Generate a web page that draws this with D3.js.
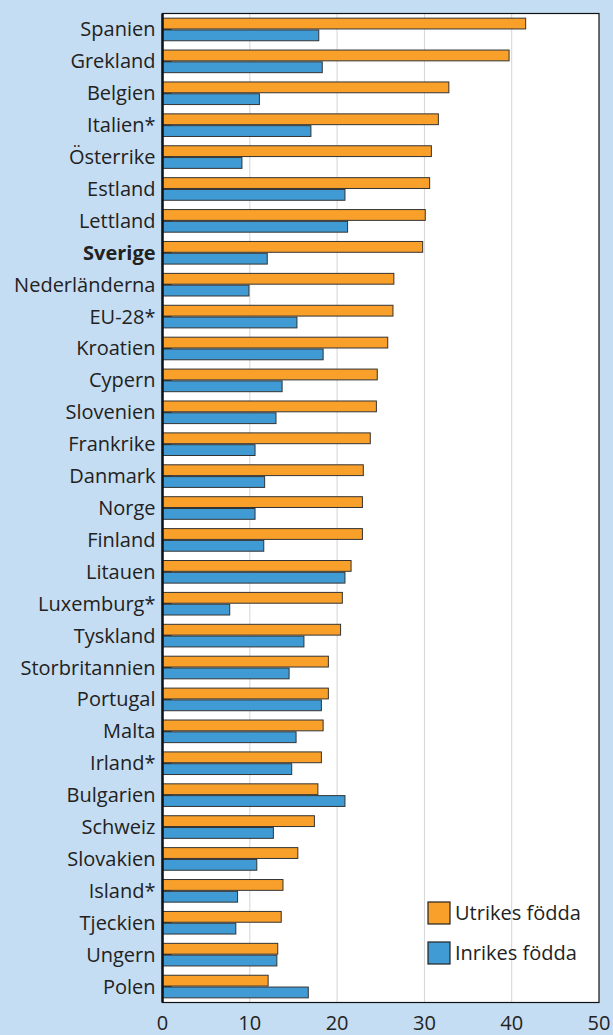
<!DOCTYPE html>
<html>
<head>
<meta charset="utf-8">
<style>
  body { margin: 0; background: #c5ddf2; }
  text { font-family: "Open Sans", "Noto Sans", sans-serif; fill: #222; }
</style>
</head>
<body>
<script src="https://d3js.org/d3.v7.min.js"></script>
<script>

    var countries = ['Spanien', 'Grekland', 'Belgien', 'Italien*', 'Österrike', 'Estland', 'Lettland',
        'Sverige', 'Nederländerna', 'EU-28*', 'Kroatien', 'Cypern', 'Slovenien', 'Frankrike',
        'Danmark', 'Norge', 'Finland', 'Litauen', 'Luxemburg*', 'Tyskland', 'Storbritannien',
        'Portugal', 'Malta', 'Irland*', 'Bulgarien', 'Schweiz', 'Slovakien', 'Island*',
        'Tjeckien', 'Ungern', 'Polen'];

    // utrikes födda (orange)
    var utrikes = [41.6, 39.7, 32.8, 31.6, 30.8, 30.6, 30.1, 29.8, 26.5, 26.4, 25.8, 24.6, 24.5,
        23.8, 23.0, 22.9, 22.9, 21.6, 20.6, 20.4, 19.0, 19.0, 18.4, 18.2, 17.8, 17.4, 15.5,
        13.8, 13.6, 13.2, 12.1];

    // inrikes födda (blue)
    var inrikes = [17.9, 18.3, 11.1, 17.0, 9.1, 20.9, 21.2, 12.0, 9.9, 15.4, 18.4, 13.7, 13.0,
        10.6, 11.7, 10.6, 11.6, 20.9, 7.7, 16.2, 14.5, 18.2, 15.3, 14.8, 20.9, 12.7, 10.8,
        8.6, 8.4, 13.1, 16.7];

    var ticks = [0, 10, 20, 30, 40, 50];
    var seriesNames = ['Utrikes födda', 'Inrikes födda'];
    var colors = ['#f9a02b', '#409bd4'];

    var width = 613, height = 1035,
        plotLeft = 162.5, plotRight = 599, plotTop = 13.5, plotBottom = 1002.5;

    var svg = d3.select('body').append('svg')
        .attr('width', width)
        .attr('height', height);

    var x = d3.scaleLinear().domain([0, 50]).range([plotLeft, plotRight]);

    var y = d3.scaleBand().domain(countries).range([plotTop, plotBottom]).paddingInner(0.26).paddingOuter(0.13);

    var sub = d3.scaleBand().domain([0, 1]).range([0, y.bandwidth()]);

    // plot background
    svg.append('rect')
        .attr('x', plotLeft).attr('y', plotTop)
        .attr('width', plotRight - plotLeft).attr('height', plotBottom - plotTop)
        .attr('fill', '#fff');

    // grid
    svg.selectAll('line.grid')
        .data(ticks.slice(1, -1))
        .enter().append('line')
        .attr('x1', function (d) { return x(d); })
        .attr('x2', function (d) { return x(d); })
        .attr('y1', plotTop).attr('y2', plotBottom)
        .attr('stroke', '#d4d4d4').attr('stroke-width', 1);

    // small inward ticks at category centres
    svg.selectAll('line.cat')
        .data(countries)
        .enter().append('line')
        .attr('x1', plotLeft).attr('x2', plotLeft + 9)
        .attr('y1', function (d) { return y(d) + y.bandwidth() / 2; })
        .attr('y2', function (d) { return y(d) + y.bandwidth() / 2; })
        .attr('stroke', '#222').attr('stroke-width', 1.5);

    var rows = countries.map(function (c, i) { return { name: c, vals: [utrikes[i], inrikes[i]] }; });

    var g = svg.selectAll('g.row')
        .data(rows)
        .enter().append('g')
        .attr('transform', function (d) { return 'translate(0,' + y(d.name) + ')'; });

    g.selectAll('rect')
        .data(function (d) { return d.vals; })
        .enter().append('rect')
        .attr('x', x(0))
        .attr('y', function (d, i) { return sub(i) + 0.5; })
        .attr('width', function (d) { return x(d) - x(0); })
        .attr('height', sub.bandwidth() - 1)
        .attr('fill', function (d, i) { return colors[i]; })
        .attr('stroke', '#333').attr('stroke-width', 1);

    // frame
    svg.append('rect')
        .attr('x', plotLeft).attr('y', plotTop)
        .attr('width', plotRight - plotLeft).attr('height', plotBottom - plotTop)
        .attr('fill', 'none').attr('stroke', '#111').attr('stroke-width', 1.2);
    svg.append('line')
        .attr('x1', plotLeft).attr('x2', plotLeft).attr('y1', plotTop).attr('y2', plotBottom)
        .attr('stroke', '#111').attr('stroke-width', 2.5);

    // category labels
    svg.selectAll('text.cat')
        .data(countries)
        .enter().append('text')
        .attr('x', plotLeft - 7)
        .attr('y', function (d) { return y(d) + y.bandwidth() / 2; })
        .attr('dy', '0.35em')
        .attr('text-anchor', 'end')
        .style('font-size', '20px')
        .style('font-weight', function (d) { return d === 'Sverige' ? 'bold' : 'normal'; })
        .text(function (d) { return d; });

    // x tick labels
    svg.selectAll('text.tick')
        .data(ticks)
        .enter().append('text')
        .attr('x', function (d) { return x(d); })
        .attr('y', 1023)
        .attr('dy', '0.35em')
        .attr('text-anchor', 'middle')
        .style('font-size', '20px')
        .text(function (d) { return d; });

    // legend
    var lg = svg.selectAll('g.legend')
        .data(seriesNames)
        .enter().append('g')
        .attr('transform', function (d, i) { return 'translate(428,' + (902 + i * 40) + ')'; });
    lg.append('rect')
        .attr('width', 22).attr('height', 22)
        .attr('fill', function (d, i) { return colors[i]; })
        .attr('stroke', '#222').attr('stroke-width', 1.2);
    lg.append('text')
        .attr('x', 27).attr('y', 11).attr('dy', '0.35em')
        .style('font-size', '20px')
        .text(function (d) { return d; });

</script>
</body>
</html>
